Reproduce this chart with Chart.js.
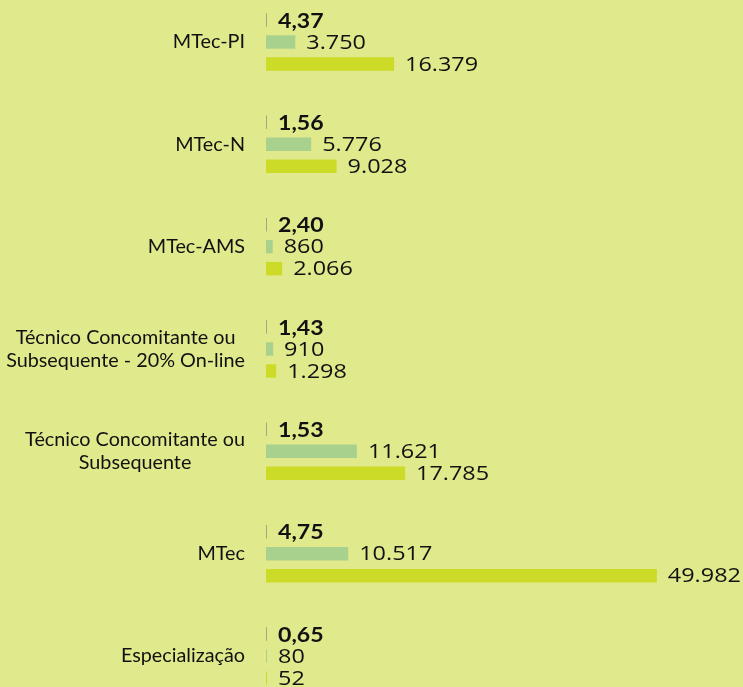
<!DOCTYPE html>
<html>
<head>
<meta charset="utf-8">
<script src="https://cdn.jsdelivr.net/npm/chart.js@4.4.1/dist/chart.umd.min.js"></script>
<style>
  html, body { margin: 0; padding: 0; background: #e0e98b; }
  canvas { display: block; }
</style>
</head>
<body>
<canvas id="chart" width="743" height="687"></canvas>
<script>
const categories = [
    'MTec-PI',
    'MTec-N',
    'MTec-AMS',
    ['Técnico Concomitante ou', 'Subsequente - 20% On-line'],
    ['Técnico Concomitante ou', 'Subsequente'],
    'MTec',
    'Especialização'
];
const relacao = [4.37, 1.56, 2.40, 1.43, 1.53, 4.75, 0.65];
const vagas = [3750, 5776, 860, 910, 11621, 10517, 80];
const inscritos = [16379, 9028, 2066, 1298, 17785, 49982, 52];

function fmtInt(v) {
    return String(v).replace(/\B(?=(\d{3})+(?!\d))/g, '.');
}
function fmtDec(v) {
    return v.toFixed(2).replace('.', ',');
}

const background = {
    id: 'background',
    beforeDraw(chart) {
        const ctx = chart.ctx;
        ctx.save();
        ctx.fillStyle = '#e0e98b';
        ctx.fillRect(0, 0, chart.width, chart.height);
        ctx.restore();
    }
};

// category names drawn by hand: single lines right aligned, wrapped ones centred
const categoryLabels = {
    id: 'categoryLabels',
    afterDraw(chart) {
        const ctx = chart.ctx;
        const yScale = chart.scales.y;
        const right = 245;
        ctx.save();
        ctx.font = '19.8px Lato';
        ctx.fillStyle = '#111';
        ctx.textBaseline = 'middle';
        ctx.textAlign = 'center';
        categories.forEach((label, i) => {
            const lines = Array.isArray(label) ? label : [label];
            const w = Math.max(...lines.map(l => ctx.measureText(l).width));
            const cx = right - w / 2;
            const cy = yScale.getPixelForValue(i);
            const lh = 23;
            lines.forEach((line, k) => {
                ctx.fillText(line, cx, cy + (k - (lines.length - 1) / 2) * lh);
            });
        });
        ctx.restore();
    }
};

// value labels after each bar end; the numbers in the original look stretched sideways
const valueLabels = {
    id: 'valueLabels',
    afterDatasetsDraw(chart) {
        const ctx = chart.ctx;
        chart.data.datasets.forEach((ds, d) => {
            const meta = chart.getDatasetMeta(d);
            meta.data.forEach((bar, i) => {
                const v = ds.data[i];
                const txt = d === 0 ? fmtDec(v) : fmtInt(v);
                const end = Math.max(bar.x, bar.base + 1);
                ctx.save();
                ctx.fillStyle = '#111';
                ctx.textBaseline = 'middle';
                ctx.textAlign = 'left';
                ctx.translate(end + 11, bar.y + 1);
                if (d === 0) {
                    ctx.font = 'bold 21px Lato';
                    ctx.scale(1.1, 1);
                } else {
                    ctx.font = '19.5px "Open Sans"';
                    ctx.scale(1.2, 1);
                }
                ctx.fillText(txt, 0, 0);
                ctx.restore();
            });
        });
    }
};

new Chart(document.getElementById('chart'), {
    type: 'bar',
    data: {
        labels: categories,
        datasets: [{
            label: 'Relação candidato/vaga',
            data: relacao,
            backgroundColor: '#a3a97c',
            minBarLength: 1,
            clip: false
        }, {
            label: 'Vagas',
            data: vagas,
            backgroundColor: '#a9d18e',
            minBarLength: 1,
            clip: false
        }, {
            label: 'Inscritos',
            data: inscritos,
            backgroundColor: '#cbdb27',
            minBarLength: 1,
            clip: false
        }]
    },
    options: {
        indexAxis: 'y',
        responsive: false,
        animation: false,
        categoryPercentage: 0.645,
        barPercentage: 0.61,
        layout: {
            padding: { left: 266, right: 86, top: 42, bottom: 31 }
        },
        plugins: {
            legend: { display: false },
            tooltip: { enabled: false }
        },
        scales: {
            x: { display: false, min: 0, max: 50000 },
            y: { display: false, offset: false }
        }
    },
    plugins: [background, categoryLabels, valueLabels]
});
</script>
</body>
</html>
